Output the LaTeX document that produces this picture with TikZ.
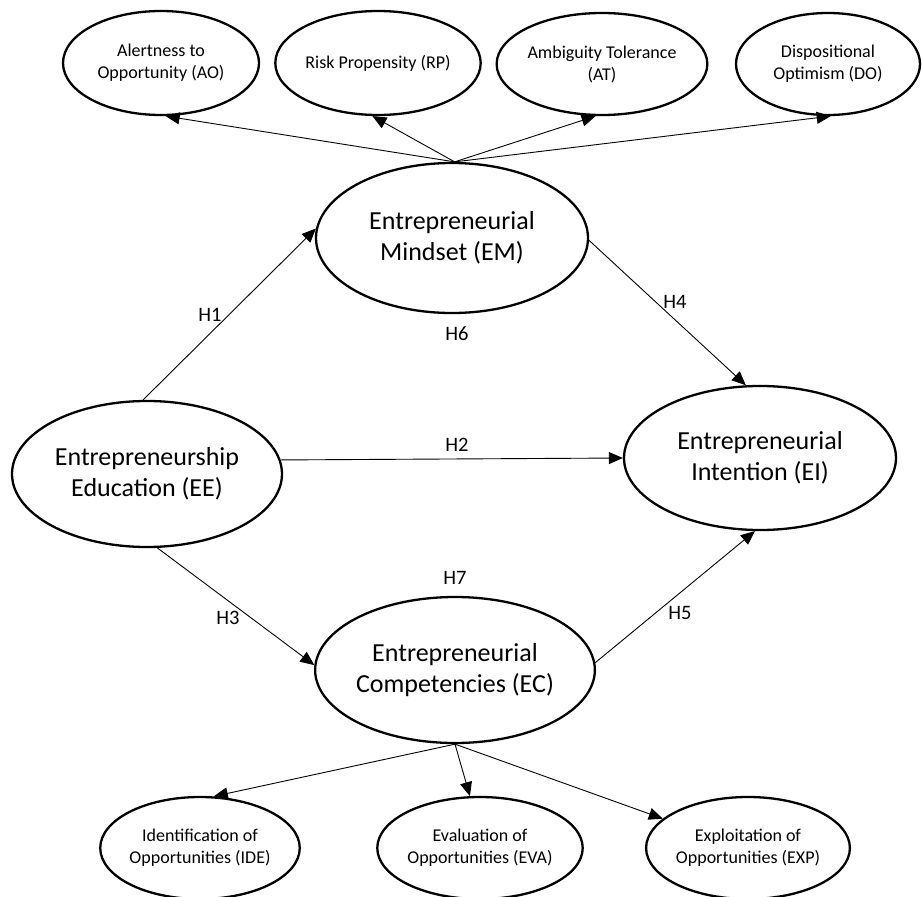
\documentclass[tikz,border=0pt]{standalone}
\usepackage{fontspec}
\setmainfont{Carlito}
\usetikzlibrary{shapes.geometric,arrows.meta}
\begin{document}
\begin{tikzpicture}[x=1pt,y=-1pt,
  big/.style={ellipse,draw,line width=2.3pt,inner sep=0pt,align=center,font=\fontsize{26}{31}\selectfont},
  small/.style={ellipse,draw,line width=2.3pt,inner sep=0pt,align=center,font=\fontsize{18}{22}\selectfont},
  conn/.style={line width=0.9pt,-{Triangle[length=14pt,width=12pt]}},
  hlab/.style={font=\fontsize{20.5}{24}\selectfont,inner sep=0pt}]
\useasboundingbox (0,0) rectangle (922,897);
% top indicators
\node[small,minimum width=196pt,minimum height=104pt] (AO) at (161,63) {Alertness to\\Opportunity (AO)};
\node[small,minimum width=190pt,minimum height=104pt] (RP) at (378,63) {Risk Propensity (RP)};
\node[small,minimum width=198pt,minimum height=102pt] (AT) at (602,64) {Ambiguity Tolerance\\(AT)};
\node[small,minimum width=184pt,minimum height=102pt] (DO) at (828,64) {Dispositional\\Optimism (DO)};
% main constructs
\node[big,minimum width=272pt,minimum height=150pt] (EM) at (452,238) {Entrepreneurial\\Mindset (EM)};
\node[big,minimum width=270pt,minimum height=146pt] (EE) at (147,474) {Entrepreneurship\\Education (EE)};
\node[big,minimum width=272pt,minimum height=144pt] (EI) at (760,458) {Entrepreneurial\\Intention (EI)};
\node[big,minimum width=272pt,minimum height=146pt] (EC) at (455,670) {Entrepreneurial\\Competencies (EC)};
% bottom indicators
\node[small,minimum width=198pt,minimum height=102pt] (IDE) at (200,848) {Identification of\\Opportunities (IDE)};
\node[small,minimum width=196pt,minimum height=102pt] (EVA) at (480,848) {Evaluation of\\Opportunities (EVA)};
\node[small,minimum width=198pt,minimum height=102pt] (EXP) at (748,848) {Exploitation of\\Opportunities (EXP)};
% connectors
\draw[conn] (EM.88) -- (AO.-85.5);
\draw[conn] (EM.88) -- (RP.-96.5);
\draw[conn] (EM.88) -- (AT.-97.7);
\draw[conn] (EM.88) -- (DO.-87.7);
\draw[conn] (EE.93) -- (EM.176.7);
\draw[conn] (EE.6.7) -- (EI.180);
\draw[conn] (EE.-82) -- (EC.178);
\draw[conn] (EM.-1.7) -- (EI.101.6);
\draw[conn] (EC.3) -- (EI.-94);
\draw[conn] (EC.-90) -- (IDE.75);
\draw[conn] (EC.-90) -- (EVA.101);
\draw[conn] (EC.-90) -- (EXP.161);
% hypothesis labels
\node[hlab] (H1) at (210,315) {H1};
\node[hlab] (H2) at (457,445) {H2};
\node[hlab] (H3) at (228,618) {H3};
\node[hlab] (H4) at (675,302) {H4};
\node[hlab] (H5) at (680,613) {H5};
\node[hlab] (H6) at (457,334) {H6};
\node[hlab] (H7) at (455,578) {H7};
\end{tikzpicture}
\end{document}
